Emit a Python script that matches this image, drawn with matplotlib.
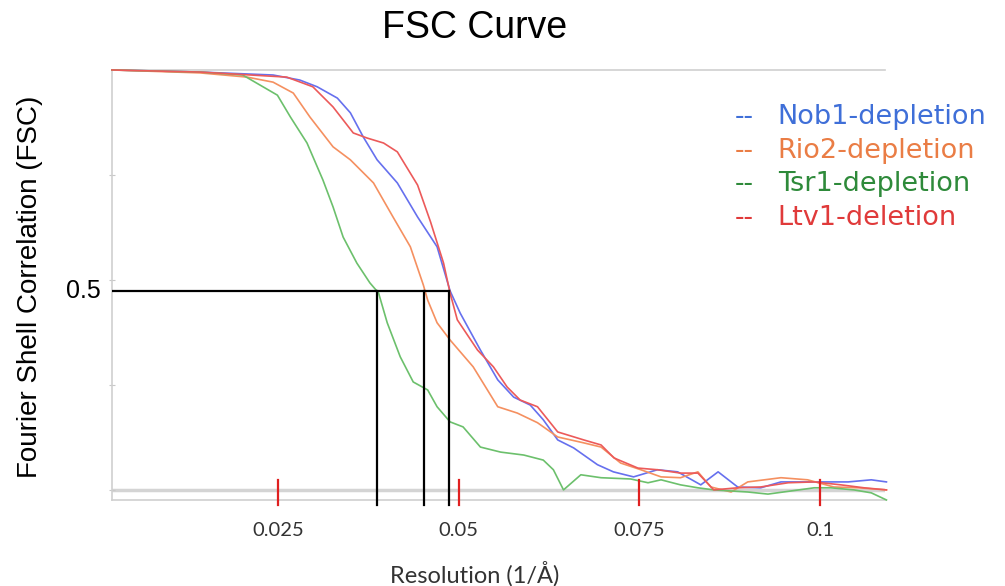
import matplotlib.pyplot as plt

# --- data (x = resolution 1/A, y = FSC) ---
nob1_x = [0.0020, 0.0142, 0.0243, 0.0280, 0.0304, 0.0332, 0.0350, 0.0368, 0.0387, 0.0415,
          0.0443, 0.0470, 0.0488, 0.0502, 0.0530, 0.0554, 0.0576, 0.0599, 0.0617, 0.0637,
          0.0659, 0.0692, 0.0714, 0.0742, 0.0775, 0.0803, 0.0835, 0.0859, 0.0886, 0.0918,
          0.0946, 0.0992, 0.1039, 0.1071, 0.1092]
nob1_y = [1.000, 0.995, 0.988, 0.976, 0.960, 0.933, 0.898, 0.840, 0.786, 0.731,
          0.650, 0.579, 0.474, 0.421, 0.333, 0.262, 0.221, 0.202, 0.167, 0.119,
          0.100, 0.060, 0.043, 0.031, 0.048, 0.043, 0.012, 0.043, 0.007, 0.005,
          0.019, 0.019, 0.019, 0.024, 0.019]

rio2_x = [0.0020, 0.0142, 0.0207, 0.0243, 0.0271, 0.0294, 0.0326, 0.0350, 0.0382, 0.0409,
          0.0433, 0.0451, 0.0457, 0.0470, 0.0488, 0.0520, 0.0554, 0.0581, 0.0609, 0.0637,
          0.0673, 0.0697, 0.0724, 0.0752, 0.0780, 0.0807, 0.0831, 0.0849, 0.0877, 0.0900,
          0.0946, 0.0983, 0.1019, 0.1053, 0.1092]
rio2_y = [1.000, 0.993, 0.983, 0.971, 0.945, 0.888, 0.817, 0.786, 0.731, 0.650,
          0.579, 0.488, 0.452, 0.398, 0.357, 0.293, 0.198, 0.183, 0.160, 0.126,
          0.112, 0.102, 0.064, 0.048, 0.031, 0.029, 0.043, 0.007, -0.005, 0.019,
          0.029, 0.024, 0.007, 0.005, 0.000]

tsr1_x = [0.0020, 0.0142, 0.0201, 0.0249, 0.0267, 0.0290, 0.0312, 0.0326, 0.0340, 0.0359,
          0.0377, 0.0389, 0.0401, 0.0419, 0.0437, 0.0457, 0.0470, 0.0488, 0.0506, 0.0530,
          0.0558, 0.0590, 0.0617, 0.0631, 0.0645, 0.0669, 0.0697, 0.0738, 0.0762, 0.0780,
          0.0807, 0.0831, 0.0853, 0.0900, 0.0928, 0.0992, 0.1015, 0.1047, 0.1071, 0.1092]
tsr1_y = [1.000, 0.995, 0.988, 0.940, 0.888, 0.826, 0.738, 0.674, 0.602, 0.540,
          0.493, 0.469, 0.398, 0.317, 0.257, 0.238, 0.198, 0.162, 0.150, 0.102,
          0.090, 0.083, 0.071, 0.048, 0.000, 0.036, 0.029, 0.026, 0.017, 0.024,
          0.012, 0.005, 0.000, -0.005, -0.010, 0.005, 0.005, 0.000, -0.007, -0.024]

ltv1_x = [0.0020, 0.0142, 0.0262, 0.0298, 0.0326, 0.0354, 0.0373, 0.0396, 0.0415, 0.0443,
          0.0461, 0.0479, 0.0488, 0.0498, 0.0526, 0.0548, 0.0567, 0.0585, 0.0609, 0.0637,
          0.0673, 0.0697, 0.0715, 0.0748, 0.0775, 0.0807, 0.0831, 0.0853, 0.0886, 0.0918,
          0.0956, 0.0992, 0.1029, 0.1061, 0.1092]
ltv1_y = [1.000, 0.995, 0.983, 0.960, 0.912, 0.850, 0.838, 0.826, 0.805, 0.726,
          0.638, 0.540, 0.469, 0.405, 0.333, 0.293, 0.245, 0.214, 0.198, 0.138,
          0.119, 0.107, 0.076, 0.052, 0.048, 0.040, 0.040, 0.000, 0.005, 0.007,
          0.017, 0.019, 0.012, 0.005, 0.000]

labels = ['Nob1-depletion', 'Rio2-depletion', 'Tsr1-depletion', 'Ltv1-deletion']
line_colors = ['#6670ee', '#f59060', '#6cc06c', '#ec5a5a']
text_colors = ['#3f6fd8', '#ea7d45', '#2e8a3a', '#e03a3a']

fsc_cut = 0.474                      # the drawn "0.5" threshold line
cut_res = [0.0387, 0.0452, 0.0487]   # Tsr1, Rio2, Nob1/Ltv1 crossings
xticks = [0.025, 0.05, 0.075, 0.1]
xtick_labels = ['0.025', '0.05', '0.075', '0.1']

# --- figure ---
fig = plt.figure(figsize=(10.05, 5.86), dpi=100)
ax = fig.add_axes([0.1114, 0.1468, 0.7692, 0.7338])
ax.set_xlim(0.002, 0.109)
ax.set_ylim(-0.024, 1.0)

for xs, ys, c in zip([nob1_x, rio2_x, tsr1_x, ltv1_x],
                     [nob1_y, rio2_y, tsr1_y, ltv1_y], line_colors):
    ax.plot(xs, ys, color=c, linewidth=1.2, clip_on=False, zorder=3)

# zero line
ax.axhline(0, color='#d4d4d4', linewidth=2.5, zorder=1, xmin=-0.015)

# threshold annotation
ax.plot([0.002, cut_res[-1]], [fsc_cut, fsc_cut], color='black', linewidth=1.6, zorder=4)
for r in cut_res:
    ax.plot([r, r], [fsc_cut, -0.036], color='black', linewidth=1.6, clip_on=False, zorder=4)

# red ticks on the x axis
for t in xticks:
    ax.plot([t, t], [0.024, -0.036], color='#e02020', linewidth=1.6, clip_on=False, zorder=5)

ax.set_xticks(xticks)
ax.set_xticklabels(xtick_labels, fontsize=14.5, family='Lato', color='#333333')
ax.tick_params(axis='x', length=0, pad=16)
ax.set_yticks([0, 0.25, 0.5, 0.75])
ax.set_yticklabels([])
ax.tick_params(axis='y', length=4, color='#c8c8c8', direction='inout')

for s in ['left', 'top', 'bottom']:
    ax.spines[s].set_color('#cfcfcf')
    ax.spines[s].set_linewidth(1.2)
ax.spines['right'].set_visible(False)

fig.text(0.4726, 1 - 574 / 586, 'Resolution (1/Å)', fontsize=17, family='Lato',
         color='#333333', ha='center', va='center')
fig.text(0.030, 0.5 + 0.01, 'Fourier Shell Correlation (FSC)', rotation=90,
         fontsize=20, family='Liberation Sans', ha='center', va='center')
ax.text(0.0005, fsc_cut, '0.5', fontsize=18, family='Liberation Sans',
        ha='right', va='center')
fig.text(0.4726, 0.952, 'FSC Curve', fontsize=27, family='Liberation Sans',
         ha='center', va='center')

# hand-made legend
for i, (lab, c) in enumerate(zip(labels, text_colors)):
    y = 1 - (117 + 33.7 * i) / 586
    fig.text(0.731, y, '--', color=c, fontsize=19, va='center', ha='left')
    fig.text(0.774, y, lab, color=c, fontsize=19.5, va='center', ha='left')

fig.savefig('out.png', dpi=100)
